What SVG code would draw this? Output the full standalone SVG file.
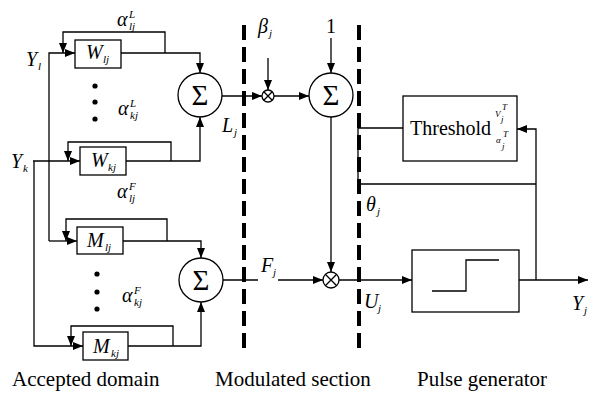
<svg xmlns="http://www.w3.org/2000/svg" width="602" height="393" viewBox="0 0 602 393">
<style>
.ln{fill:none;stroke:#000;stroke-width:1.3}
.bx{fill:#fff;stroke:#000;stroke-width:1.3}
.ds{fill:none;stroke:#000;stroke-width:4;stroke-dasharray:15 7}
text{font-family:'Liberation Serif',serif;fill:#000}
.i{font-style:italic}
.lg{font-size:20px}
.sm{font-size:11px}
.xs{font-size:9px}
.cap{font-size:21px}
.sg{font-size:29px;text-anchor:middle}
</style>
<defs>
<marker id="ar" markerUnits="userSpaceOnUse" markerWidth="10" markerHeight="8" refX="10" refY="4" orient="auto">
<path d="M0,0 L10,4 L0,8 z" fill="#000"/>
</marker>
</defs>
<rect width="602" height="393" fill="#fff"/>

<g id="dividers">
<line class="ds" x1="244" y1="25" x2="244" y2="350"/>
<line class="ds" x1="359" y1="25" x2="359" y2="350"/>
</g>

<g id="connectors">
<polyline class="ln" points="49,241 49,53 75,53" marker-end="url(#ar)"/>
<line class="ln" x1="49" y1="241" x2="77" y2="241" marker-end="url(#ar)"/>
<line class="ln" x1="33" y1="161" x2="80" y2="161" marker-end="url(#ar)"/>
<polyline class="ln" points="34,161 34,346 83,346" marker-end="url(#ar)"/>
<polyline class="ln" points="165,53 165,32 63,32 63,53" marker-end="url(#ar)"/>
<polyline class="ln" points="121,53 200,53 200,73" marker-end="url(#ar)"/>
<polyline class="ln" points="171,161 171,142 68,142 68,161" marker-end="url(#ar)"/>
<polyline class="ln" points="126,161 200,161 200,117" marker-end="url(#ar)"/>
<polyline class="ln" points="167,241 167,219 66,219 66,241" marker-end="url(#ar)"/>
<polyline class="ln" points="123,241 201,241 201,258" marker-end="url(#ar)"/>
<polyline class="ln" points="173,346 173,326 71,326 71,346" marker-end="url(#ar)"/>
<polyline class="ln" points="128,346 201,346 201,302" marker-end="url(#ar)"/>
<line class="ln" x1="222" y1="96" x2="262" y2="96" marker-end="url(#ar)"/>
<line class="ln" x1="268" y1="58" x2="268" y2="90" marker-end="url(#ar)"/>
<line class="ln" x1="274" y1="96" x2="309" y2="96" marker-end="url(#ar)"/>
<line class="ln" x1="331" y1="38" x2="331" y2="73" marker-end="url(#ar)"/>
<line class="ln" x1="331" y1="117" x2="331" y2="272" marker-end="url(#ar)"/>
<line class="ln" x1="223" y1="280" x2="258" y2="280"/>
<line class="ln" x1="278" y1="280" x2="323" y2="280" marker-end="url(#ar)"/>
<line class="ln" x1="339" y1="280" x2="412" y2="280" marker-end="url(#ar)"/>
<line class="ln" x1="519" y1="280" x2="588" y2="280" marker-end="url(#ar)"/>
<polyline class="ln" points="536,280 536,129 517,129" marker-end="url(#ar)"/>
<polyline class="ln" points="403,128 358,128 358,184 536,184"/>
</g>

<g id="W_lj">
<rect class="bx" x="75" y="40" width="46" height="28"/>
<text class="i lg" x="86" y="59">W</text>
<text class="i sm" x="103" y="63">lj</text>
</g>
<g id="W_kj">
<rect class="bx" x="80" y="147" width="46" height="28"/>
<text class="i lg" x="91" y="167">W</text>
<text class="i sm" x="108" y="171">kj</text>
</g>
<g id="M_lj">
<rect class="bx" x="77" y="227" width="46" height="27"/>
<text class="i lg" x="87" y="247">M</text>
<text class="i sm" x="105" y="251">lj</text>
</g>
<g id="M_kj">
<rect class="bx" x="83" y="332" width="45" height="28"/>
<text class="i lg" x="93" y="353">M</text>
<text class="i sm" x="111" y="357">kj</text>
</g>

<g id="sum1">
<circle class="bx" cx="200" cy="95" r="22"/>
<text class="sg" x="200" y="105">Σ</text>
</g>
<g id="sum2">
<circle class="bx" cx="201" cy="280" r="22"/>
<text class="sg" x="201" y="290">Σ</text>
</g>
<g id="sum3">
<circle class="bx" cx="331" cy="95" r="22"/>
<text class="sg" x="331" y="105">Σ</text>
</g>
<g id="mult1">
<circle class="bx" cx="268" cy="96" r="6"/>
<path class="ln" d="M263.8,91.8 L272.2,100.2 M272.2,91.8 L263.8,100.2"/>
</g>
<g id="mult2">
<circle class="bx" cx="331" cy="280" r="8"/>
<path class="ln" d="M325.3,274.3 L336.7,285.7 M336.7,274.3 L325.3,285.7"/>
</g>

<g id="threshold">
<rect class="bx" x="403" y="96" width="114" height="65"/>
<text class="lg" x="410" y="135">Threshold</text>
<text class="i xs" x="495" y="117">V</text>
<text class="i xs" x="502" y="110">T</text>
<text class="i xs" x="501" y="122">j</text>
<text class="i xs" x="496" y="143">α</text>
<text class="i xs" x="503" y="137">T</text>
<text class="i xs" x="502" y="149">j</text>
</g>

<g id="pulse">
<rect class="bx" x="412" y="250" width="107" height="62"/>
<polyline class="ln" points="432,291 466,291 466,260 499,260"/>
</g>

<g id="dots">
<circle cx="95" cy="86" r="2.6"/>
<circle cx="95" cy="102" r="2.6"/>
<circle cx="95" cy="119" r="2.6"/>
<circle cx="97" cy="274" r="2.6"/>
<circle cx="97" cy="292" r="2.6"/>
<circle cx="97" cy="309" r="2.6"/>
</g>

<g id="labels">
<text class="i lg" x="117" y="26">α</text>
<text class="i sm" x="129" y="18">L</text>
<text class="i sm" x="129" y="30">lj</text>
<text class="i lg" x="118" y="115">α</text>
<text class="i sm" x="130" y="107">L</text>
<text class="i sm" x="130" y="119">kj</text>
<text class="i lg" x="117" y="198">α</text>
<text class="i sm" x="129" y="190">F</text>
<text class="i sm" x="129" y="202">lj</text>
<text class="i lg" x="122" y="302">α</text>
<text class="i sm" x="134" y="294">F</text>
<text class="i sm" x="134" y="306">kj</text>
<text class="i lg" x="26" y="66">Y</text>
<text class="i sm" x="38" y="70">l</text>
<text class="i lg" x="11" y="168">Y</text>
<text class="i sm" x="23" y="172">k</text>
<text class="i lg" x="222" y="132">L</text>
<text class="i sm" x="234" y="136">j</text>
<text class="i lg" x="258" y="33">β</text>
<text class="i sm" x="269" y="37">j</text>
<text class="lg" x="326" y="33">1</text>
<text class="i lg" x="261" y="272">F</text>
<text class="i sm" x="273" y="276">j</text>
<text class="i lg" x="366" y="211">θ</text>
<text class="i sm" x="377" y="215">j</text>
<text class="i lg" x="364" y="308">U</text>
<text class="i sm" x="378" y="312">j</text>
<text class="i lg" x="572" y="310">Y</text>
<text class="i sm" x="584" y="314">j</text>
<text class="cap" x="12" y="386">Accepted domain</text>
<text class="cap" x="215" y="386">Modulated section</text>
<text class="cap" x="417" y="386">Pulse generator</text>
</g>
</svg>
